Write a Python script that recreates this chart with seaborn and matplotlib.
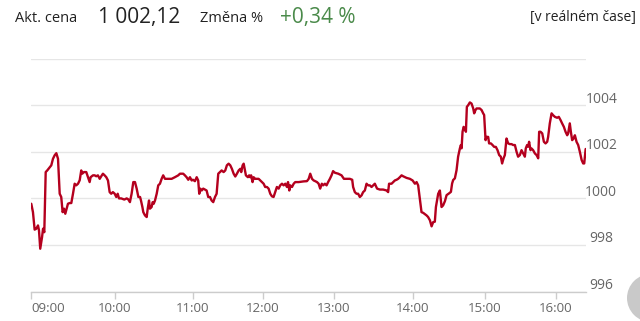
import numpy as np
import pandas as pd
import matplotlib
matplotlib.use("Agg")
import matplotlib.pyplot as plt
import seaborn as sns
from matplotlib.patches import Circle
from matplotlib.transforms import IdentityTransform

# ---------------- data (minutes after 09:00, price) ----------------
minutes = [
    0.2, 1.4, 2.6, 3.8, 5.0, 5.7, 6.6, 7.9, 8.6, 9.5, 10.5, 11.6, 13.4, 14.5, 15.7, 16.9, 18.1, 19.3,
    20.5, 21.6, 22.6, 23.6, 24.5, 25.5, 26.4, 27.6, 28.8, 30.0, 31.2, 32.3, 33.6, 34.8, 35.9, 36.6,
    37.8, 39.5, 40.7, 41.9, 42.6, 44.3, 45.5, 46.6, 47.8, 49.1, 50.2, 51.4, 52.6, 53.8, 55.0, 56.2,
    57.3, 58.5, 59.8,
    61.0, 62.1, 63.1, 64.8, 67.2, 69.0, 70.2, 71.5, 72.8, 74.1, 75.4, 76.7, 78.0, 79.3, 80.0, 81.1,
    81.8, 83.1, 84.4, 85.2, 86.2, 86.9, 88.2, 89.0, 89.8, 90.8, 92.1, 93.3, 94.6, 95.9, 97.1, 98.5,
    101.0, 103.6, 106.1, 108.7, 110.0, 112.5, 113.8, 115.1, 116.4, 117.7, 119.0, 120.0,
    121.7, 123.2, 124.5, 125.4, 126.3, 127.5, 128.8, 130.3, 131.7, 133.1, 134.6, 136.0, 137.4, 138.9,
    140.3, 141.7, 143.1, 144.6, 146.3, 147.7, 149.1, 150.6, 152.0, 153.4, 154.9, 156.3, 157.7, 159.2,
    160.6, 161.4, 162.6, 163.5, 164.3, 165.4, 167.1, 168.2, 169.1, 169.9, 171.1, 172.0, 173.4, 176.3,
    177.7, 179.1,
    180.6, 181.9, 183.4, 184.8, 186.2, 187.6, 189.0, 190.4, 191.8, 193.3, 194.6, 196.1, 197.5, 198.9,
    200.3, 201.2, 202.3, 203.1, 204.6, 206.0, 207.3, 210.2, 214.4, 217.2, 218.7, 220.0, 221.5, 222.9,
    224.2, 225.7, 227.1, 228.4, 229.8, 230.9, 232.4, 233.8, 235.1, 236.6, 238.0, 239.3,
    240.8, 243.3, 245.8, 247.6, 249.6, 252.1, 253.9, 254.6, 255.9, 257.2, 258.4, 259.7, 261.0, 262.2,
    263.5, 264.8, 266.0, 267.3, 268.6, 269.8, 271.1, 272.8, 274.9, 277.4, 280.0, 281.2, 281.9, 283.8,
    285.0, 286.3, 287.6, 288.8, 290.1, 291.4, 292.6, 295.2, 297.7, 299.8,
    301.7, 303.1, 304.4, 305.8, 307.2, 308.6, 311.4, 312.7, 314.2, 315.6, 316.9, 318.3, 319.2, 321.1,
    322.5, 323.9, 325.2, 326.7, 328.1, 330.0, 331.7, 332.7, 333.6, 335.0, 336.4, 337.7, 339.2, 340.0,
    340.6, 341.4, 342.3, 343.3, 344.2, 345.0, 346.1, 347.5, 348.9, 350.3, 351.1, 352.2, 353.1, 354.4,
    355.8, 357.3, 358.6, 359.4,
    360.6, 361.4, 362.8, 363.6, 365.1, 366.5, 367.9, 369.3, 370.7, 372.1, 373.5, 374.6, 375.8, 376.9,
    378.3, 379.7, 381.1, 382.6, 383.9, 385.4, 386.8, 388.1, 389.6, 391.0, 392.4, 393.8, 394.6, 395.7,
    396.6, 397.4, 398.6, 399.5, 400.8, 402.3, 403.7, 405.1, 405.9, 407.1, 408.5, 409.9, 411.3, 412.7,
    413.5, 414.9, 416.4, 417.7, 419.2, 421.1, 422.5, 424.0, 425.3, 426.8, 428.2, 429.6, 430.4, 431.8,
    432.7, 433.8, 435.0, 436.1, 437.5, 438.9, 440.3, 441.8, 443.1, 444.0, 445.2,
]
prices = [
    999.77, 999.41, 998.66, 998.70, 998.84, 998.63, 997.84, 998.34, 998.70, 998.55, 1001.13, 1001.20,
    1001.34, 1001.42, 1001.70, 1001.85, 1001.94, 1001.70, 1000.20, 1000.06, 999.41, 999.56, 999.34,
    999.56, 999.77, 999.80, 999.80, 1000.20, 1000.63, 1000.56, 1000.63, 1000.78, 1001.20, 1001.06,
    1001.13, 1001.13, 1000.91, 1000.70, 1000.91, 1000.99, 1000.99, 1000.95, 1000.99, 1000.84, 1000.95,
    1001.06, 1000.99, 1000.91, 1000.77, 1000.27, 1000.20, 1000.27, 1000.20,
    1000.06, 1000.20, 1000.00, 1000.00, 999.95, 1000.00, 999.96, 999.84, 1000.20, 1000.70, 1000.70,
    1000.42, 1000.06, 1000.06, 999.91, 999.63, 999.41, 999.27, 999.20, 999.56, 999.91, 999.56, 999.63,
    999.84, 999.77, 999.91, 1000.20, 1000.56, 1000.63, 1000.84, 1000.99, 1000.84, 1000.84, 1000.84,
    1000.91, 1000.99, 1001.06, 1001.06, 1000.99, 1000.91, 1000.80, 1000.91, 1000.77, 1000.80,
    1000.74, 1000.91, 1000.77, 1000.20, 1000.42, 1000.34, 1000.42, 1000.38, 1000.34, 1000.06, 1000.06,
    999.91, 999.84, 1000.06, 1000.20, 1001.06, 1001.13, 1001.20, 1001.13, 1001.20, 1001.42, 1001.49,
    1001.42, 1001.27, 1001.06, 1000.94, 1001.06, 1001.20, 1001.27, 1001.13, 1001.42, 1001.49, 1001.27,
    1000.99, 1000.91, 1000.99, 1000.91, 1000.99, 1000.70, 1000.91, 1000.84, 1000.84, 1000.77, 1000.70,
    1000.63, 1000.49, 1000.49, 1000.42, 1000.20, 1000.09, 1000.06, 1000.27, 1000.49, 1000.42, 1000.56,
    1000.63, 1000.56, 1000.63, 1000.49, 1000.70, 1000.34, 1000.56, 1000.49, 1000.63, 1000.70, 1000.70,
    1000.73, 1000.74, 1000.84, 1001.06, 1000.84, 1000.77, 1000.74, 1000.70, 1000.63, 1000.42, 1000.63,
    1000.56, 1000.63, 1000.56, 1000.70, 1000.84, 1000.99, 1001.17,
    1001.10, 1001.06, 1000.99, 1000.84, 1000.84, 1000.84, 1000.80, 1000.49, 1000.27, 1000.20, 1000.20,
    1000.06, 1000.13, 1000.27, 1000.34, 1000.63, 1000.56, 1000.56, 1000.49, 1000.56, 1000.63, 1000.42,
    1000.38, 1000.38, 1000.34, 1000.27, 1000.63, 1000.63, 1000.70, 1000.77, 1000.80, 1000.84, 1000.91,
    1000.99, 1000.95, 1000.88, 1000.84, 1000.77,
    1000.63, 1000.70, 1000.56, 1000.00, 999.41, 999.38, 999.27, 999.20, 999.06, 998.80, 998.98, 999.00,
    999.63, 1000.20, 1000.34, 999.63, 999.70, 999.88, 1000.14, 1000.21, 1000.28, 1000.64, 1000.79,
    1000.86, 1001.21, 1001.79, 1002.15, 1002.29, 1002.15, 1002.86, 1003.07, 1003.00, 1002.86, 1003.93,
    1004.00, 1004.12, 1004.07, 1003.86, 1003.65, 1003.79, 1003.86, 1003.86, 1003.86, 1003.79, 1003.65,
    1003.58,
    1002.50, 1002.64, 1002.64, 1002.36, 1002.36, 1002.29, 1002.21, 1002.21, 1002.07, 1001.86, 1001.79,
    1001.50, 1001.72, 1001.86, 1002.57, 1002.36, 1002.33, 1002.33, 1002.29, 1002.29, 1002.00, 1001.79,
    1001.86, 1002.07, 1001.93, 1001.79, 1002.15, 1002.29, 1002.22, 1002.43, 1002.07, 1002.14, 1002.07,
    1001.93, 1001.86, 1001.72, 1002.86, 1002.86, 1002.79, 1002.43, 1002.36, 1002.43, 1002.64, 1003.22,
    1003.65, 1003.57, 1003.50, 1003.46, 1003.50, 1003.36, 1003.22, 1003.07, 1002.86, 1002.71, 1002.79,
    1003.22, 1002.86, 1002.50, 1002.57, 1002.71, 1002.43, 1002.29, 1002.00, 1001.65, 1001.50, 1001.50,
    1002.12,
]
hour_minutes = [0, 60, 120, 180, 240, 300, 360, 420]
hour_labels = ["09:00", "10:00", "11:00", "12:00", "13:00", "14:00", "15:00", "16:00"]
y_ticks = [996, 998, 1000, 1002, 1004, 1006]
y_labels = ["996", "998", "1000", "1002", "1004", ""]
last_price_text = "1 002,12"
change_text = "+0,34 %"

df = pd.DataFrame({"minute": minutes, "price": prices})

# ---------------- style ----------------
sns.set_theme(style="white")
plt.rcParams["font.family"] = ["Open Sans", "DejaVu Sans"]

fig = plt.figure(figsize=(6.4, 3.21), dpi=100)
fig.patch.set_facecolor("white")
ax = fig.add_axes([31 / 640, 1 - 291.6 / 321, (586 - 31) / 640, (291.6 - 58.6) / 321])

# ordinal-like time axis: hours occupy unequal widths (trading activity)
hour_span = [84, 78, 70, 71, 79, 72, 71]
node_pos = np.concatenate([[-hour_span[0]], np.cumsum([0] + hour_span), [sum(hour_span) + hour_span[-1]]])
node_min = np.array([-60] + hour_minutes + [480], dtype=float)
fwd = lambda m: np.interp(m, node_min, node_pos)
inv = lambda p: np.interp(p, node_pos, node_min)
ax.set_xscale("function", functions=(fwd, inv))

sns.lineplot(data=df, x="minute", y="price", ax=ax, color="#b4001e", linewidth=1.7,
             estimator=None, sort=False)

ax.set_xlim(0, 445.5)
ax.set_ylim(996, 1006)
ax.set_xlabel("")
ax.set_ylabel("")

# grid
ax.set_yticks(y_ticks)
ax.set_yticklabels([])
ax.yaxis.grid(True, color="#e6e6e6", linewidth=1)
ax.tick_params(axis="y", length=0)
for s in ["top", "left", "right"]:
    ax.spines[s].set_visible(False)
ax.spines["bottom"].set_color("#cccccc")
ax.spines["bottom"].set_linewidth(1)

# y labels (right, slightly above gridline)
for v, lab in zip(y_ticks, y_labels):
    ax.annotate(lab, xy=(1.0, v), xycoords=("axes fraction", "data"),
                xytext=(11, 4.4), textcoords="offset points",
                ha="center", va="center", fontsize=10, color="#666666")

# x ticks
ax.set_xticks(hour_minutes)
ax.set_xticklabels(hour_labels)
ax.tick_params(axis="x", bottom=True, length=5, width=1, color="#cccccc",
               labelsize=9.5, labelcolor="#666666", pad=2.3)
ax.get_xticklabels()[0].set_horizontalalignment("left")

# header
fig.text(15 / 640, 1 - 18 / 321, "Akt. cena", fontsize=10.5, color="#222222", va="center", ha="left")
fig.text(98 / 640, 1 - 17 / 321, last_price_text, fontsize=15, color="#222222", va="center", ha="left")
fig.text(200 / 640, 1 - 18 / 321, "Změna %", fontsize=10.5, color="#222222", va="center", ha="left")
fig.text(280 / 640, 1 - 17 / 321, change_text, fontsize=15, color="#4a8a4a", va="center", ha="left")
fig.text(636 / 640, 1 - 18 / 321, "[v reálném čase]", fontsize=10, color="#222222", va="center", ha="right")

# floating UI button partially visible at bottom-right
fig.patches.append(Circle((651, 321 - 298), 24, transform=IdentityTransform(),
                          facecolor="#c9c9c9", edgecolor="none", zorder=5))

fig.savefig("out.png", dpi=100, facecolor="white")
